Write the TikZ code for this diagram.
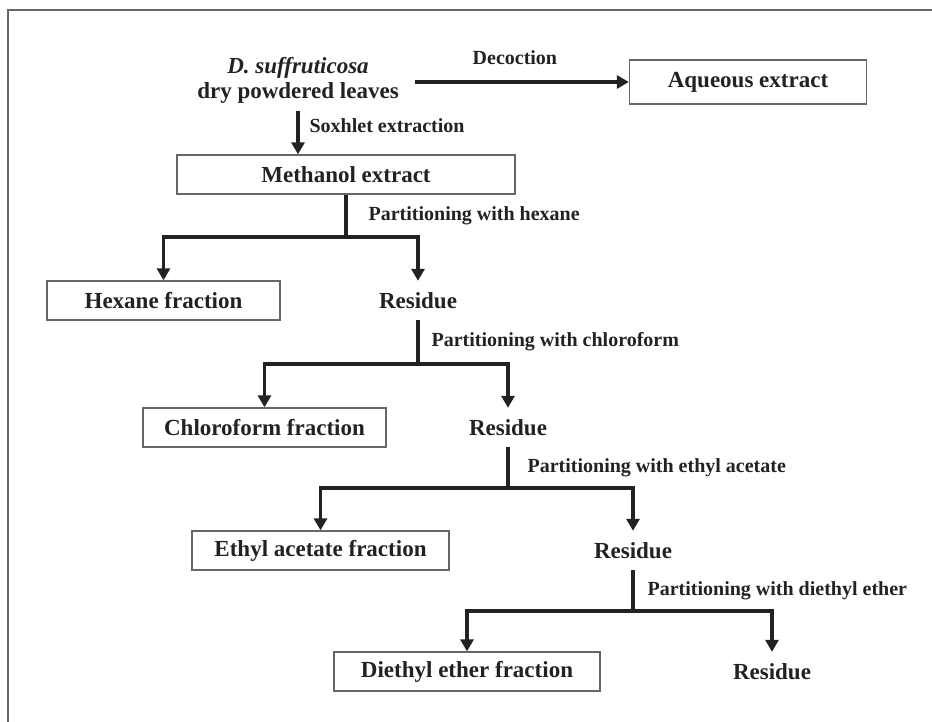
\documentclass[tikz,border=0pt]{standalone}
\usepackage{fontspec}
\setmainfont{Liberation Serif}
\usetikzlibrary{arrows.meta,positioning}
\definecolor{ink}{HTML}{222222}
\definecolor{boxline}{HTML}{666666}

\begin{document}
\begin{tikzpicture}[x=1pt, y=-1pt,
        box/.style={rectangle, draw=boxline, line width=1.3pt, minimum height=39pt, inner sep=2pt, text=ink, font=\fontsize{23}{25}\selectfont\bfseries},
        res/.style={rectangle, minimum height=39pt, inner sep=2pt, text=ink, font=\fontsize{23}{25}\selectfont\bfseries},
        lbl/.style={inner sep=0pt, text=ink, font=\fontsize{20}{22}\selectfont\bfseries},
        arr/.style={-{Triangle[width=13pt,length=12pt]}, line width=3.2pt, draw=ink},
        link/.style={line width=3.2pt, draw=ink}
    ]
        \useasboundingbox (0,0) rectangle (932,722);
        \draw[boxline, line width=1.5pt] (932,10) -- (8,10) -- (8,722);

        \node[res, align=center] (src) at (298,80) {\textit{D. suffruticosa}\\dry powdered leaves};
        \node[box, minimum width=237pt, minimum height=44pt] (aq) at (748,82) {Aqueous extract};
        \node[box, minimum width=338pt] (meth) at (346,174.5) {Methanol extract};

        \draw[arr, shorten <=14pt] (src.east |- aq.west) -- node[lbl, above=16pt] (ldec) {Decoction} (aq.west);
        \draw[arr, shorten <=6pt] (src.south) -- (src.south |- meth.north)
            node[lbl, midway, right=10pt, yshift=4pt] (lsox) {Soxhlet extraction};

        % hexane
        \coordinate (j1) at (346,237);
        \node[box, minimum width=233pt] (hex) at (163.5,300.5) {Hexane fraction};
        \node[res] (r1) at (418,300.5) {Residue};
        \draw[link] (meth.south) -- node[lbl, right=21pt] (lhex) {Partitioning with hexane} (j1);
        \draw[arr] (j1) -| (hex.north);
        \draw[arr] (j1) -| (r1.north);

        % chloroform
        \coordinate (j2) at (418,364);
        \node[box, minimum width=243pt] (chl) at (264.5,427.5) {Chloroform fraction};
        \node[res] (r2) at (508,427.5) {Residue};
        \draw[link] (r1.south) -- node[lbl, right=12pt] (lchl) {Partitioning with chloroform} (j2);
        \draw[arr] (j2) -| (chl.north);
        \draw[arr] (j2) -| (r2.north);

        % ethyl acetate
        \coordinate (j3) at (508,488);
        \node[box, minimum width=257pt] (ea) at (320.5,550.5) {Ethyl acetate fraction};
        \node[res] (r3) at (633,550.5) {Residue};
        \draw[link] (r2.south) -- node[lbl, right=18pt] (lea) {Partitioning with ethyl acetate} (j3);
        \draw[arr] (j3) -| (ea.north);
        \draw[arr] (j3) -| (r3.north);

        % diethyl ether
        \coordinate (j4) at (633,611);
        \node[box, minimum width=266pt] (de) at (467,671.5) {Diethyl ether fraction};
        \node[res] (r4) at (772,671.5) {Residue};
        \draw[link] (r3.south) -- node[lbl, right=13pt] (lde) {Partitioning with diethyl ether} (j4);
        \draw[arr] (j4) -| (de.north);
        \draw[arr] (j4) -| (r4.north);
    \end{tikzpicture}
\end{document}
